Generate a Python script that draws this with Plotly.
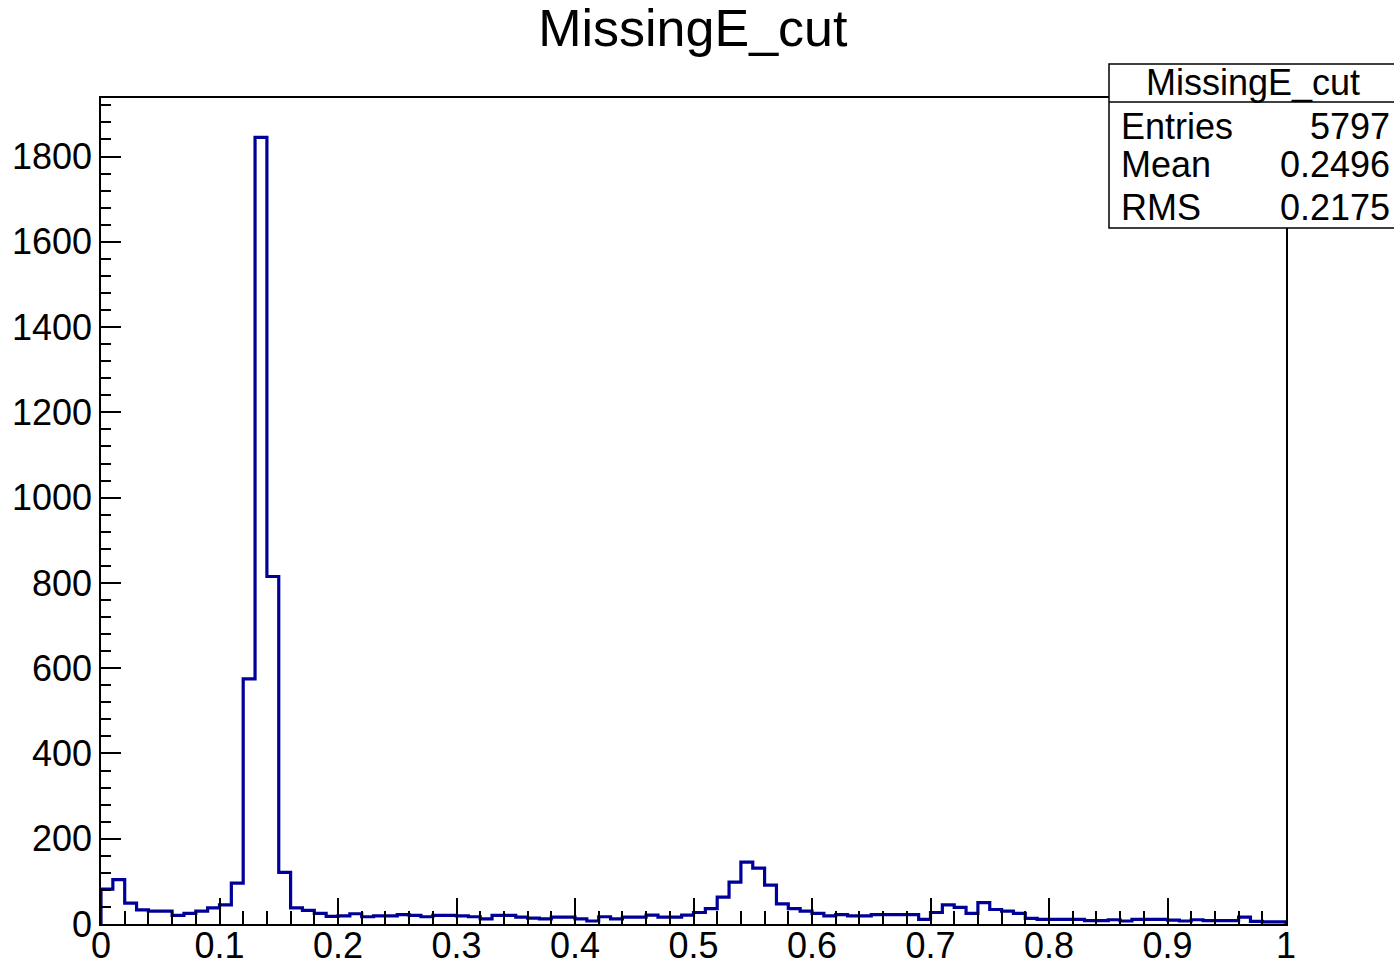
import numpy as np
import plotly.graph_objects as go

# Histogram "MissingE_cut": 100 bins on [0, 1]
n_bins = 100
x_min, x_max = 0.0, 1.0
counts = [
    82, 104, 49, 33, 30, 30, 20, 25, 30, 38,
    45, 96, 575, 1845, 815, 121, 38, 32, 25, 18,
    19, 24, 17, 19, 19, 22, 20, 17, 20, 20,
    19, 17, 12, 20, 20, 16, 14, 12, 16, 16,
    12, 7, 17, 12, 16, 16, 21, 16, 16, 21,
    27, 36, 63, 98, 145, 131, 91, 47, 36, 30,
    25, 19, 22, 19, 19, 22, 22, 22, 22, 11,
    27, 45, 39, 25, 50, 34, 30, 25, 13, 11,
    11, 11, 11, 8, 8, 10, 7, 11, 11, 11,
    9, 7, 10, 8, 8, 8, 16, 6, 5, 5,
]
stats_title = "MissingE_cut"
stats_labels = ["Entries", "Mean", "RMS"]
stats_values = ["5797", "0.2496", "0.2175"]

W, H = 1394, 961
L, R, T, B = 101, 1286, 98, 924  # plot-area pixel bounds

edges = np.linspace(x_min, x_max, n_bins + 1)
# step outline: start and end on the x axis
xs = np.concatenate([[edges[0]], edges, [edges[-1]]])
ys = np.concatenate([[0], counts, [counts[-1]], [0]])

y_top = max(counts) * 1.05

FONT = "Liberation Sans, Arial, sans-serif"
BLUE = "#000099"

fig = go.Figure()
fig.add_trace(go.Scatter(
    x=xs, y=ys, mode="lines", line_shape="hv",
    line=dict(color=BLUE, width=3.2), hoverinfo="skip", showlegend=False,
))


def px(xp):
    return (xp - L) / (R - L)


def py(yp):
    return (B - yp) / (B - T)


# statistics box
box_l, box_r, box_t, box_b, box_div = 1109, 1400, 64, 228, 102
fig.add_shape(type="rect", xref="paper", yref="paper",
              x0=px(box_l), x1=px(box_r), y0=py(box_b), y1=py(box_t),
              line=dict(color="black", width=1.5), fillcolor="white", layer="above")
fig.add_shape(type="line", xref="paper", yref="paper",
              x0=px(box_l), x1=px(box_r), y0=py(box_div), y1=py(box_div),
              line=dict(color="black", width=1.5), layer="above")
fig.add_annotation(xref="paper", yref="paper", x=px(1253), y=py(82),
                   text=stats_title, showarrow=False, xanchor="center", yanchor="middle",
                   font=dict(family=FONT, size=36, color="black"))
for i, (lab, val) in enumerate(zip(stats_labels, stats_values)):
    yy = [126, 165, 207][i]
    fig.add_annotation(xref="paper", yref="paper", x=px(1119), y=py(yy),
                       text=lab, showarrow=False, xanchor="left", yanchor="middle",
                       font=dict(family=FONT, size=36, color="black"))
    fig.add_annotation(xref="paper", yref="paper", x=px(1392), y=py(yy),
                       text=val, showarrow=False, xanchor="right", yanchor="middle",
                       font=dict(family=FONT, size=36, color="black"))

fig.update_layout(
    width=W, height=H,
    margin=dict(l=L, r=W - R, t=T, b=H - B),
    paper_bgcolor="white", plot_bgcolor="white",
    title=dict(text="MissingE_cut", x=0.497, xref="container", xanchor="center",
               y=1 - 28 / H, yref="container", yanchor="middle",
               font=dict(family=FONT, size=52, color="black")),
    font=dict(family=FONT, size=36, color="black"),
)
fig.update_xaxes(
    range=[x_min, x_max], showgrid=False, zeroline=False, automargin=False,
    showline=True, mirror=True, linecolor="black", linewidth=1.5,
    ticks="inside", ticklen=26, tickwidth=1.5, tickcolor="black", dtick=0.1, tick0=0,
    minor=dict(ticks="inside", ticklen=13, tickwidth=1.5, tickcolor="black", dtick=0.02, tick0=0),
    tickfont=dict(family=FONT, size=36, color="black"),
    ticklabelstandoff=-11,
)
fig.update_yaxes(
    range=[0, y_top], showgrid=False, zeroline=False, automargin=False,
    showline=True, mirror=True, linecolor="black", linewidth=1.5,
    ticks="inside", ticklen=20, tickwidth=1.5, tickcolor="black", dtick=200, tick0=0,
    minor=dict(ticks="inside", ticklen=10, tickwidth=1.5, tickcolor="black", dtick=40, tick0=0),
    tickfont=dict(family=FONT, size=36, color="black"),
)

fig.write_html("out.html")
